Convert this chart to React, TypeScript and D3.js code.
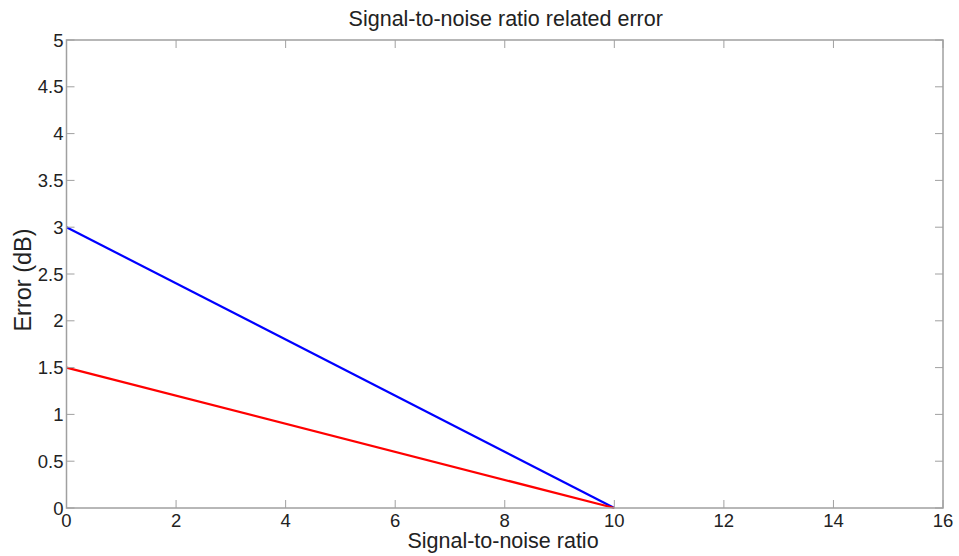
import React from "react";
import * as d3 from "d3";

const xTicks = [0, 2, 4, 6, 8, 10, 12, 14, 16];
const yTicks = [0, 0.5, 1, 1.5, 2, 2.5, 3, 3.5, 4, 4.5, 5];
const snr = [0, 10];
const blueErr = [3, 0];
const redErr = [1.5, 0];

const W = 959, H = 556;
const L = 66.5, R = 943, T = 40, B = 508;

export default function App() {
  const x = d3.scaleLinear().domain([0, 16]).range([L, R]);
  const y = d3.scaleLinear().domain([0, 5]).range([B, T]);
  const line = d3.line<[number, number]>().x(d => x(d[0])).y(d => y(d[1]));
  const blue = snr.map((s, i) => [s, blueErr[i]] as [number, number]);
  const red = snr.map((s, i) => [s, redErr[i]] as [number, number]);
  const axisColor = "#a0a0a0";
  const font = "'Liberation Sans', Arial, sans-serif";
  return (
    <svg width={W} height={H} style={{ position: "absolute", left: 0, top: 0, background: "#fff" }}>
      <rect x={0} y={0} width={W} height={H} fill="#fff" />
      <path d={line(blue) || ""} fill="none" stroke="#0000ff" strokeWidth={2.2} />
      <path d={line(red) || ""} fill="none" stroke="#ff0000" strokeWidth={2.2} />
      <rect x={L} y={T} width={R - L} height={B - T} fill="none" stroke={axisColor} strokeWidth={1.5} />
      {xTicks.map(t => (
        <g key={"x" + t}>
          <line x1={x(t)} x2={x(t)} y1={B} y2={B - 8} stroke={axisColor} />
          <line x1={x(t)} x2={x(t)} y1={T} y2={T + 8} stroke={axisColor} />
          <text x={x(t)} y={B + 19} textAnchor="middle" fontFamily={font} fontSize={18.5} fill="#222">{t}</text>
        </g>
      ))}
      {yTicks.map(t => (
        <g key={"y" + t}>
          <line x1={L} x2={L + 8} y1={y(t)} y2={y(t)} stroke={axisColor} />
          <line x1={R} x2={R - 8} y1={y(t)} y2={y(t)} stroke={axisColor} />
          <text x={L - 3} y={y(t) + 6.5} textAnchor="end" fontFamily={font} fontSize={18.5} fill="#222">{t}</text>
        </g>
      ))}
      <text x={(L + R) / 2 + 1} y={26} textAnchor="middle" fontFamily={font} fontSize={21.5} fill="#222">Signal-to-noise ratio related error</text>
      <text x={503} y={548} textAnchor="middle" fontFamily={font} fontSize={21.5} fill="#222">Signal-to-noise ratio</text>
      <text transform={`translate(31,280) rotate(-90)`} textAnchor="middle" fontFamily={font} fontSize={23.5} fill="#222">Error (dB)</text>
    </svg>
  );
}
